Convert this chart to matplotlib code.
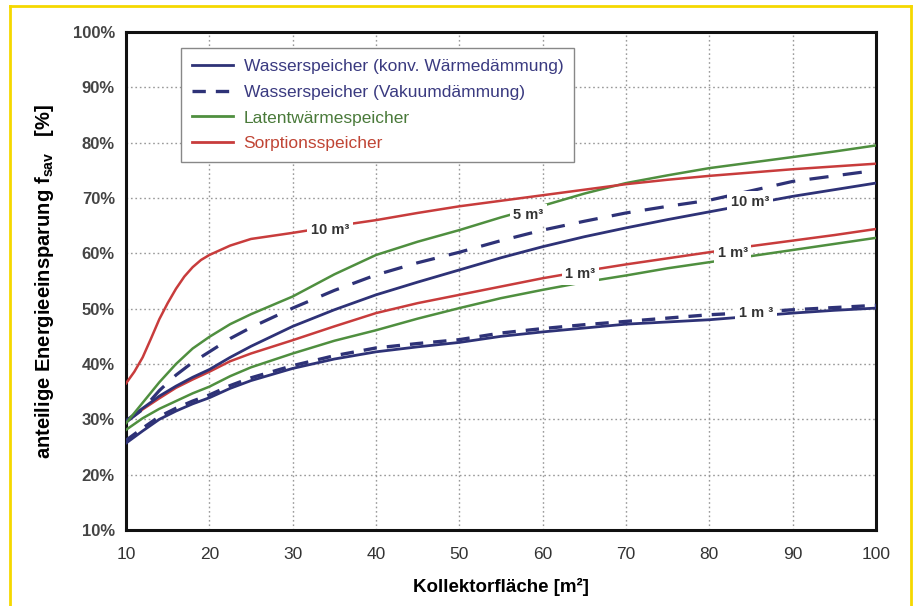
import matplotlib
matplotlib.use("Agg")
import matplotlib.pyplot as plt
from matplotlib.lines import Line2D

plt.rcParams['font.family'] = ['Liberation Sans', 'DejaVu Sans']
plt.rcParams['mathtext.fontset'] = 'custom'
plt.rcParams['mathtext.rm'] = 'Liberation Sans'
plt.rcParams['mathtext.bf'] = 'Liberation Sans:bold'

# ---- data ----
x_common = [10, 12, 14, 16, 18, 20, 22.5, 25, 30, 35, 40, 45, 50, 55, 60, 65, 70, 75, 80, 85, 90, 95, 100]
latent10 = [29.3, 33.0, 36.7, 40.0, 42.8, 44.9, 47.2, 49.0, 52.2, 56.2, 59.7, 62.1, 64.2, 66.5, 68.6, 70.8, 72.7, 74.1, 75.4, 76.4, 77.4, 78.4, 79.5]
vac10 = [29.5, 31.8, 35.2, 38.0, 40.3, 42.2, 44.6, 46.6, 50.1, 53.3, 56.1, 58.3, 60.2, 62.3, 64.2, 65.8, 67.3, 68.5, 69.6, 71.3, 73.0, 74.0, 75.0]
conv10 = [29.8, 32.0, 34.2, 36.0, 37.6, 39.0, 41.2, 43.2, 46.8, 49.8, 52.5, 54.8, 57.0, 59.2, 61.2, 63.0, 64.6, 66.1, 67.5, 68.9, 70.3, 71.5, 72.7]
sorp1 = [29.5, 31.8, 33.8, 35.7, 37.2, 38.6, 40.5, 41.9, 44.3, 46.8, 49.2, 51.0, 52.5, 54.0, 55.5, 56.8, 58.0, 59.1, 60.2, 61.3, 62.3, 63.3, 64.4]
latent1 = [28.1, 30.2, 31.9, 33.3, 34.7, 35.9, 37.8, 39.4, 41.9, 44.2, 46.1, 48.2, 50.1, 51.9, 53.4, 54.8, 56.0, 57.3, 58.4, 59.5, 60.6, 61.7, 62.8]
conv1 = [25.7, 27.9, 30.0, 31.5, 32.8, 33.9, 35.6, 37.0, 39.2, 40.9, 42.2, 43.1, 43.9, 45.0, 45.8, 46.5, 47.2, 47.6, 48.0, 48.6, 49.2, 49.7, 50.1]
vac1 = [26.2, 28.4, 30.5, 32.0, 33.3, 34.4, 36.1, 37.5, 39.7, 41.5, 42.9, 43.7, 44.4, 45.6, 46.4, 47.1, 47.7, 48.3, 48.9, 49.3, 49.8, 50.2, 50.6]
x_sorp10 = [10, 11, 12, 13, 14, 15, 16, 17, 18, 19, 20, 22.5, 25, 30, 35, 40, 45, 50, 55, 60, 65, 70, 75, 80, 85, 90, 95, 100]
sorp10 = [36.5, 38.6, 41.2, 44.6, 48.1, 51.0, 53.6, 55.8, 57.5, 58.8, 59.7, 61.4, 62.6, 63.7, 64.9, 66.0, 67.3, 68.5, 69.5, 70.5, 71.5, 72.5, 73.3, 74.0, 74.6, 75.2, 75.7, 76.2]

legend_labels = ["Wasserspeicher (konv. Wärmedämmung)",
                 "Wasserspeicher (Vakuumdämmung)",
                 "Latentwärmespeicher",
                 "Sorptionsspeicher"]
curve_labels = [("10 m³", 34.5, 64.3), ("5 m³", 58.3, 67.0), ("1 m³", 64.5, 56.2),
                ("1 m³", 82.8, 60.0), ("10 m³", 84.9, 69.3), ("1 m ³", 85.6, 49.3)]
xticks = list(range(10, 101, 10))
yticks = list(range(10, 101, 10))

# ---- styles ----
BLUE = "#2e3277"
GREEN = "#4f8f3f"
RED = "#c83c3c"

fig = plt.figure(figsize=(9.17, 6.06), dpi=100)
ax = fig.add_axes([0.1374, 0.1254, 0.8179, 0.8218])

ax.plot(x_common, conv1, color=BLUE, lw=2.0, zorder=3)
ax.plot(x_common, vac1, color=BLUE, lw=2.4, dashes=(4, 3), zorder=3)
ax.plot(x_common, latent1, color=GREEN, lw=1.8, zorder=3)
ax.plot(x_common, sorp1, color=RED, lw=1.8, zorder=3)
ax.plot(x_common, conv10, color=BLUE, lw=2.0, zorder=3)
ax.plot(x_common, vac10, color=BLUE, lw=2.3, dashes=(6, 4.5), zorder=3)
ax.plot(x_common, latent10, color=GREEN, lw=1.8, zorder=3)
ax.plot(x_sorp10, sorp10, color=RED, lw=1.8, zorder=3)

for txt, xx, yy in curve_labels:
    ax.text(xx, yy, txt, ha='center', va='center', fontsize=10.5, fontweight='bold',
            color='#333333', zorder=5,
            bbox=dict(facecolor='white', edgecolor='none', pad=2.5))

ax.set_xlim(10, 100)
ax.set_ylim(10, 100)
ax.set_xticks(xticks)
ax.set_yticks(yticks)
ax.set_xticklabels([str(v) for v in xticks], fontsize=12.5, color='#333333')
ax.set_yticklabels([f"{v}%" for v in yticks], fontsize=12, fontweight='bold', color='#444444')
ax.tick_params(axis='y', length=0, pad=8)
ax.tick_params(axis='x', length=0, pad=12)
ax.grid(True, color='#999999', linestyle=(0, (1.2, 2)), linewidth=1.0)
for s in ax.spines.values():
    s.set_linewidth(2.2)
    s.set_color('#111111')

ax.set_xlabel("Kollektorfläche [m²]", fontsize=13.5, fontweight='bold', labelpad=12)
ax.set_ylabel(r"anteilige Energieeinsparung $\mathbf{f}_{\mathbf{sav}}$   [%]",
              fontsize=14.5, fontweight='bold', labelpad=12)

handles = [Line2D([], [], color=BLUE, lw=2.0),
           Line2D([], [], color=BLUE, lw=2.4, dashes=(4, 3)),
           Line2D([], [], color=GREEN, lw=2.0),
           Line2D([], [], color=RED, lw=2.0)]
leg = ax.legend(handles, legend_labels, loc='upper left', bbox_to_anchor=(0.062, 0.985),
                fontsize=12.5, handlelength=2.4, handletextpad=0.6, borderpad=0.6,
                labelspacing=0.62, fancybox=False, framealpha=1, edgecolor='#888888')
leg.get_frame().set_linewidth(1.0)
for t, c in zip(leg.get_texts(), ["#3a3a80", "#3a3a80", "#4a7a3a", "#c04535"]):
    t.set_color(c)

# yellow frame
YEL = "#f5d800"
fig.add_artist(Line2D([10/917, 10/917], [0, 1 - 6/606], transform=fig.transFigure, color=YEL, lw=2))
fig.add_artist(Line2D([911/917, 911/917], [0, 1 - 6/606], transform=fig.transFigure, color=YEL, lw=2))
fig.add_artist(Line2D([10/917, 911/917], [1 - 6/606, 1 - 6/606], transform=fig.transFigure, color=YEL, lw=2))

fig.savefig("out.png", dpi=100)
